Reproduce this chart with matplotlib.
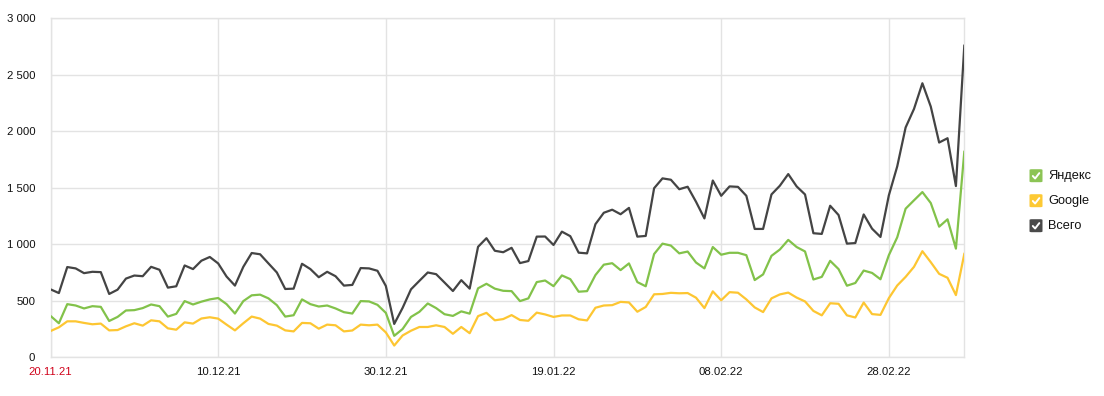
import matplotlib
matplotlib.use("Agg")
import matplotlib.pyplot as plt
import matplotlib.dates as mdates
from matplotlib.patches import FancyBboxPatch
from matplotlib.lines import Line2D
import pandas as pd

start_date = "2021-11-20"

vsego = [601, 568, 798, 786, 744, 756, 753, 560, 598, 696,
         723, 717, 800, 774, 616, 628, 812, 780, 854, 887,
         830, 714, 634, 800, 922, 911, 830, 750, 604, 607,
         827, 780, 708, 756, 717, 634, 640, 789, 786, 765,
         631, 295, 437, 601, 676, 750, 735, 661, 586, 682,
         607, 977, 1053, 942, 929, 968, 833, 851, 1067, 1068,
         993, 1111, 1071, 925, 919, 1177, 1278, 1305, 1265, 1321,
         1067, 1073, 1495, 1582, 1570, 1486, 1508, 1375, 1228, 1563,
         1428, 1511, 1507, 1428, 1135, 1135, 1440, 1517, 1620, 1511,
         1440, 1097, 1091, 1340, 1258, 1005, 1010, 1263, 1137, 1064,
         1432, 1688, 2032, 2196, 2423, 2217, 1899, 1937, 1514, 2755]

yandex = [366, 301, 470, 458, 432, 452, 446, 321, 357, 414,
          417, 435, 467, 452, 360, 384, 497, 467, 492, 512,
          524, 470, 387, 497, 548, 554, 521, 461, 360, 372,
          512, 470, 449, 458, 432, 399, 387, 497, 494, 464,
          393, 190, 250, 357, 402, 476, 435, 381, 366, 406,
          386, 610, 650, 607, 588, 585, 497, 521, 665, 679,
          629, 724, 691, 580, 585, 727, 819, 832, 771, 830,
          665, 628, 913, 1005, 988, 919, 935, 838, 786, 975,
          907, 924, 924, 903, 683, 733, 897, 953, 1038, 975,
          936, 688, 711, 853, 780, 633, 657, 767, 746, 690,
          903, 1061, 1314, 1388, 1461, 1364, 1155, 1220, 961, 1817]

google = [232, 265, 318, 318, 304, 292, 298, 238, 241, 274,
          301, 280, 327, 318, 256, 244, 309, 298, 343, 354,
          342, 289, 238, 301, 360, 342, 295, 280, 238, 229,
          304, 301, 253, 289, 283, 229, 237, 289, 283, 289,
          220, 104, 193, 235, 268, 268, 283, 268, 208, 268,
          213, 364, 393, 327, 338, 373, 330, 323, 395, 379,
          357, 370, 370, 336, 326, 438, 458, 461, 490, 485,
          403, 445, 557, 560, 570, 566, 568, 527, 435, 583,
          504, 576, 571, 512, 441, 400, 521, 556, 572, 528,
          494, 410, 371, 478, 473, 371, 352, 484, 382, 375,
          523, 635, 711, 800, 938, 841, 738, 703, 550, 914]

series_names = ["Яндекс", "Google", "Всего"]
series_colors = ["#82c24a", "#fdc632", "#444444"]
box_colors = ["#8cc455", "#fdc933", "#4a4a4a"]

dates = pd.date_range(start_date, periods=len(vsego), freq="D")

plt.rcParams["font.family"] = ["Liberation Sans", "DejaVu Sans"]

W, H = 1104, 396
fig = plt.figure(figsize=(W / 100, H / 100), dpi=100)
left_px, right_px, top_px, bottom_px = 50.5, 964.3, 18.0, 357.3
ax = fig.add_axes([left_px / W, 1 - bottom_px / H,
                   (right_px - left_px) / W, (bottom_px - top_px) / H])

ax.plot(dates, google, color=series_colors[1], lw=1.6, zorder=3)
ax.plot(dates, yandex, color=series_colors[0], lw=1.6, zorder=3)
ax.plot(dates, vsego, color=series_colors[2], lw=1.6, zorder=4)

ax.set_xlim(dates[0], dates[-1])
ax.set_ylim(0, 3000)
ax.set_yticks(range(0, 3001, 500))
ax.yaxis.set_major_formatter(
    matplotlib.ticker.FuncFormatter(lambda v, p: f"{int(v):,}".replace(",", " ")))
xt = dates[::20]
ax.set_xticks(xt)
ax.set_xticklabels([d.strftime("%d.%m.%y") for d in xt])
ax.get_xticklabels()[0].set_color("#d0021b")

ax.tick_params(axis="both", length=0, labelsize=8.2, colors="#111111")
ax.tick_params(axis="y", pad=11)
ax.tick_params(axis="x", pad=7)
ax.get_xticklabels()[0].set_color("#d0021b")

ax.grid(True, color="#e3e3e3", lw=1)
ax.set_axisbelow(True)
for s in ax.spines.values():
    s.set_color("#e3e3e3")
    s.set_linewidth(1)

# legend with check boxes
for i, (name, bc) in enumerate(zip(series_names, box_colors)):
    cy = 175.7 + i * 25.0
    bx0, bsize = 1029.5, 13.0
    x0 = bx0 / W
    y0 = 1 - (cy + bsize / 2) / H
    box = FancyBboxPatch((x0, y0), bsize / W, bsize / H,
                         boxstyle="round,pad=0,rounding_size=0.002",
                         transform=fig.transFigure, facecolor=bc,
                         edgecolor="none")
    fig.patches.append(box)
    cx = [bx0 + 3.3, bx0 + 5.6, bx0 + 9.8]
    cyy = [cy + 0.3, cy + 2.8, cy - 2.6]
    fig.lines.append(Line2D([c / W for c in cx], [1 - c / H for c in cyy],
                            transform=fig.transFigure, color="white",
                            lw=1.4, solid_capstyle="round",
                            solid_joinstyle="round"))
    fig.text(1048 / W, 1 - cy / H, name, fontsize=9.2, va="center",
             ha="left", color="#111111")

fig.savefig("out.png", dpi=100)
